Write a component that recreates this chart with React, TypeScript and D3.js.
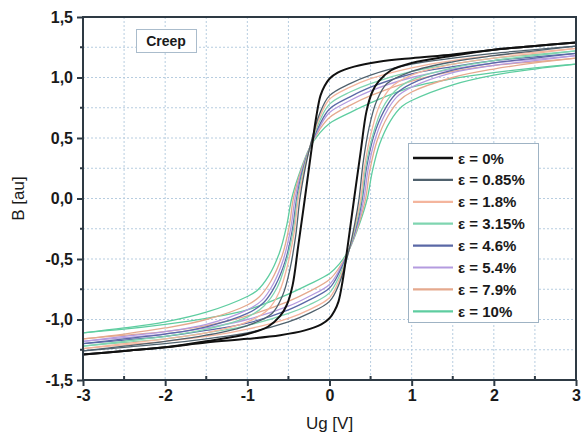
import React, { useEffect, useRef } from 'react';
import * as d3 from 'd3';

// strain levels and their colours
const labels = ['ε = 0%', 'ε = 0.85%', 'ε = 1.8%', 'ε = 3.15%', 'ε = 4.6%', 'ε = 5.4%', 'ε = 7.9%', 'ε = 10%'];
const colors = ['#111111', '#4f616d', '#f4b59d', '#7fd5b0', '#5a68a6', '#b49bdf', '#e5a98e', '#5ecda0'];

// descending (upper) branches, [Ug, B]
const e0 = [[3, 1.29], [2.5, 1.26], [2, 1.23], [1.5, 1.19], [1, 1.16], [0.6, 1.13], [0.3, 1.09], [0.1, 1.04], [0, 0.99], [-0.06, 0.93], [-0.11, 0.85], [-0.16, 0.68], [-0.22, 0.4], [-0.3, 0.0], [-0.38, -0.39], [-0.45, -0.72], [-0.52, -0.88], [-0.6, -0.97], [-0.75, -1.06], [-1, -1.12], [-1.5, -1.18], [-2, -1.23], [-2.5, -1.26], [-3, -1.29]];
const e085 = [[3, 1.26], [2.5, 1.23], [2, 1.2], [1.5, 1.16], [1, 1.11], [0.5, 1.02], [0.25, 0.95], [0, 0.85], [-0.12, 0.7], [-0.24, 0.42], [-0.31, 0.2], [-0.36, 0.0], [-0.41, -0.3], [-0.48, -0.58], [-0.57, -0.8], [-0.7, -0.95], [-1, -1.05], [-1.5, -1.13], [-2, -1.18], [-2.5, -1.22], [-3, -1.26]];
const e18 = [[3, 1.24], [2.5, 1.21], [2, 1.18], [1.5, 1.14], [1, 1.08], [0.5, 0.99], [0.25, 0.92], [0, 0.82], [-0.12, 0.67], [-0.24, 0.42], [-0.32, 0.2], [-0.38, 0.0], [-0.43, -0.28], [-0.51, -0.55], [-0.61, -0.77], [-0.75, -0.92], [-1, -1.02], [-1.5, -1.11], [-2, -1.16], [-2.5, -1.2], [-3, -1.24]];
const e315 = [[3, 1.22], [2.5, 1.19], [2, 1.16], [1.5, 1.11], [1, 1.05], [0.5, 0.95], [0.25, 0.88], [0, 0.78], [-0.12, 0.64], [-0.24, 0.42], [-0.33, 0.2], [-0.39, 0.0], [-0.44, -0.26], [-0.53, -0.53], [-0.64, -0.74], [-0.8, -0.89], [-1, -0.98], [-1.5, -1.08], [-2, -1.14], [-2.5, -1.18], [-3, -1.22]];
const e46 = [[3, 1.2], [2.5, 1.17], [2, 1.14], [1.5, 1.09], [1, 1.03], [0.5, 0.92], [0.25, 0.84], [0, 0.74], [-0.12, 0.61], [-0.24, 0.42], [-0.34, 0.2], [-0.4, 0.0], [-0.45, -0.25], [-0.54, -0.52], [-0.66, -0.72], [-0.8, -0.86], [-1, -0.95], [-1.5, -1.06], [-2, -1.12], [-2.5, -1.16], [-3, -1.2]];
const e54 = [[3, 1.18], [2.5, 1.15], [2, 1.12], [1.5, 1.07], [1, 1.0], [0.5, 0.89], [0.25, 0.81], [0, 0.71], [-0.12, 0.59], [-0.24, 0.42], [-0.35, 0.2], [-0.42, 0.0], [-0.47, -0.24], [-0.56, -0.5], [-0.68, -0.7], [-0.82, -0.84], [-1, -0.92], [-1.5, -1.04], [-2, -1.1], [-2.5, -1.14], [-3, -1.18]];
const e79 = [[3, 1.16], [2.5, 1.13], [2, 1.1], [1.5, 1.05], [1, 0.97], [0.5, 0.85], [0.25, 0.77], [0, 0.67], [-0.12, 0.57], [-0.24, 0.42], [-0.36, 0.2], [-0.44, 0.0], [-0.49, -0.23], [-0.58, -0.48], [-0.71, -0.68], [-0.85, -0.81], [-1, -0.88], [-1.5, -1.0], [-2, -1.07], [-2.5, -1.12], [-3, -1.16]];
const e10 = [[3, 1.11], [2.5, 1.08], [2, 1.04], [1.5, 0.99], [1, 0.92], [0.5, 0.79], [0.25, 0.71], [0, 0.62], [-0.12, 0.54], [-0.24, 0.42], [-0.37, 0.2], [-0.46, 0.0], [-0.52, -0.22], [-0.61, -0.45], [-0.74, -0.64], [-0.88, -0.76], [-1, -0.81], [-1.5, -0.94], [-2, -1.02], [-2.5, -1.07], [-3, -1.11]];
const branches = [e0, e085, e18, e315, e46, e54, e79, e10];

const xTicks = [-3, -2, -1, 0, 1, 2, 3];
const yTicks = [-1.5, -1.0, -0.5, 0.0, 0.5, 1.0, 1.5];

const Chart = () => {
  const ref = useRef<SVGSVGElement>(null);

  useEffect(() => {
    const width = 586;
    const height = 440;
    const left = 83, right = 576, top = 17, bottom = 380;

    const x = d3.scaleLinear().domain([-3, 3]).range([left, right]);
    const y = d3.scaleLinear().domain([-1.5, 1.5]).range([bottom, top]);

    const svg = d3.select(ref.current)
      .attr('width', width)
      .attr('height', height)
      .style('font-family', '"Liberation Sans", Arial, sans-serif');

    // dotted grid
    const grid = svg.append('g');
    grid.selectAll('.gx')
      .data(d3.range(-2.5, 3, 0.5))
      .enter().append('line')
      .attr('x1', d => x(d)).attr('x2', d => x(d))
      .attr('y1', top).attr('y2', bottom)
      .attr('stroke', '#b7cde0').attr('stroke-dasharray', '2,2');
    grid.selectAll('.gy')
      .data(d3.range(-1.25, 1.5, 0.25))
      .enter().append('line')
      .attr('x1', left).attr('x2', right)
      .attr('y1', d => y(d)).attr('y2', d => y(d))
      .attr('stroke', '#b7cde0').attr('stroke-dasharray', '2,2');

    // loops: upper branch as read, lower branch is its point mirror
    const line = d3.line<number[]>()
      .x(d => x(d[0]))
      .y(d => y(d[1]))
      .curve(d3.curveCatmullRom.alpha(0.5));

    const order = [7, 6, 5, 4, 3, 2, 1, 0];
    const curves = svg.append('g');
    order.forEach(i => {
      const upper = branches[i];
      const lower = upper.map(p => [-p[0], -p[1]]);
      [upper, lower].forEach(b => {
        curves.append('path')
          .attr('d', line(b))
          .attr('fill', 'none')
          .attr('stroke', colors[i])
          .attr('stroke-width', i === 0 ? 2 : 1.3);
      });
    });

    // frame
    svg.append('rect')
      .attr('x', left).attr('y', top)
      .attr('width', right - left).attr('height', bottom - top)
      .attr('fill', 'none').attr('stroke', '#2e3a44').attr('stroke-width', 2);

    // axes
    const fmt = (d: number) => d3.format('.1f')(d).replace('.', ',').replace('−', '-');
    const fmtX = (d: number) => d3.format('d')(d).replace('−', '-');
    const yAxis = svg.append('g')
      .attr('transform', `translate(${left},0)`)
      .call(d3.axisLeft(y).tickValues(yTicks).tickFormat(fmt as any).tickSize(6).tickPadding(4));
    const xAxis = svg.append('g')
      .attr('transform', `translate(0,${bottom})`)
      .call(d3.axisBottom(x).tickValues(xTicks).tickFormat(fmtX as any).tickSize(6).tickPadding(4));
    [xAxis, yAxis].forEach(a => {
      a.select('.domain').remove();
      a.selectAll('line').attr('stroke', '#2e3a44').attr('stroke-width', 2);
      a.selectAll('text')
        .attr('fill', '#1a1a1a')
        .style('font-size', '16px')
        .style('font-weight', 'bold')
        .style('font-family', '"Liberation Sans", Arial, sans-serif');
    });

    // minor ticks
    svg.append('g').selectAll('line')
      .data(d3.range(-2.5, 3, 1))
      .enter().append('line')
      .attr('x1', d => x(d)).attr('x2', d => x(d))
      .attr('y1', bottom).attr('y2', bottom - 4)
      .attr('stroke', '#2e3a44').attr('stroke-width', 2);
    svg.append('g').selectAll('line')
      .data(d3.range(-1.25, 1.5, 0.5))
      .enter().append('line')
      .attr('x1', left).attr('x2', left - 3)
      .attr('y1', d => y(d)).attr('y2', d => y(d))
      .attr('stroke', '#2e3a44').attr('stroke-width', 2);

    // axis titles
    svg.append('text')
      .attr('x', (left + right) / 2).attr('y', 429)
      .attr('text-anchor', 'middle')
      .style('font-size', '17px')
      .attr('fill', '#1a1a1a')
      .text('Ug [V]');
    svg.append('text')
      .attr('transform', `translate(24,${(top + bottom) / 2}) rotate(-90)`)
      .attr('text-anchor', 'middle')
      .style('font-size', '17px')
      .attr('fill', '#1a1a1a')
      .text('B [au]');

    // "Creep" label
    svg.append('rect')
      .attr('x', 136.5).attr('y', 29.5).attr('width', 60).attr('height', 23)
      .attr('fill', 'white').attr('stroke', '#aabccc');
    svg.append('text')
      .attr('x', 166).attr('y', 46)
      .attr('text-anchor', 'middle')
      .style('font-size', '14px').style('font-weight', 'bold')
      .attr('fill', '#1a1a1a')
      .text('Creep');

    // legend
    const lg = svg.append('g').attr('transform', 'translate(408,143)');
    lg.append('rect')
      .attr('x', 0.5).attr('y', 0.5).attr('width', 130).attr('height', 179)
      .attr('fill', 'white').attr('stroke', '#9fb3c4');
    labels.forEach((t, i) => {
      const yy = 15 + i * 21.9;
      lg.append('line')
        .attr('x1', 5).attr('x2', 45).attr('y1', yy).attr('y2', yy)
        .attr('stroke', colors[i]).attr('stroke-width', i === 0 ? 2.5 : 2.2);
      lg.append('text')
        .attr('x', 50).attr('y', yy + 5.5)
        .style('font-size', '15px').style('font-weight', 'bold')
        .attr('fill', '#1a1a1a')
        .text(t);
    });

    return () => {
      d3.select(ref.current).selectAll('*').remove();
    };
  }, []);

  return <svg ref={ref} style={{ display: 'block', position: 'absolute', left: 0, top: 0 }}></svg>;
};

export default function App() {
  return <Chart />;
}
